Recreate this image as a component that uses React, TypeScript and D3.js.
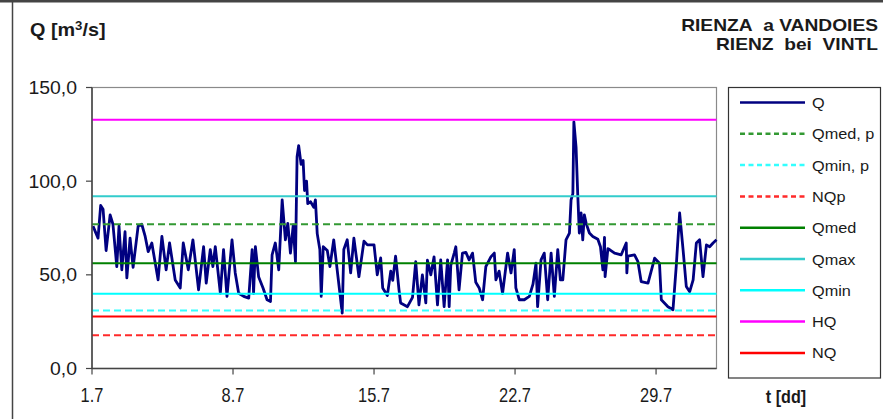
import React from "react";
import * as d3 from "d3";

// x axis: days since 1 July
const tickDays = [0, 7, 14, 21, 28];
const tickLabels = ["1.7", "8.7", "15.7", "22.7", "29.7"];
const yTicks = [0, 50, 100, 150];
const yTickLabels = ["0,0", "50,0", "100,0", "150,0"];

// Q series (time in days since 1.7 00:00, discharge m3/s)
const qTimes = [
  0.05, 0.3, 0.43, 0.55, 0.7, 0.9, 1.04, 1.23, 1.34, 1.48, 1.64, 1.73, 1.89, 2.04, 2.29, 2.47, 2.64, 2.79, 2.97,
  3.28, 3.47, 3.68, 3.85, 4.13, 4.38, 4.53, 4.78, 5.01, 5.29, 5.54, 5.67, 5.87, 6.0, 6.12, 6.37, 6.53, 6.7, 6.95,
  7.11, 7.28, 7.53, 7.78, 7.95, 8.02, 8.11, 8.27, 8.49, 8.69, 8.86, 8.94, 9.1, 9.27, 9.44, 9.6, 9.72, 9.85, 9.99,
  10.1, 10.18, 10.26, 10.38, 10.48, 10.55, 10.65, 10.71, 10.85, 11.01, 11.09, 11.18, 11.31, 11.38, 11.48, 11.68,
  11.81, 12.0, 12.17, 12.42, 12.5, 12.67, 12.84, 13.0, 13.25, 13.5, 13.67, 14.0, 14.16, 14.33, 14.43, 14.66, 14.83,
  14.93, 15.07, 15.24, 15.32, 15.66, 15.91, 16.07, 16.23, 16.4, 16.57, 16.65, 16.82, 16.98, 17.15, 17.31, 17.48,
  17.65, 17.73, 17.81, 17.98, 18.06, 18.22, 18.39, 18.56, 18.72, 18.89, 19.05, 19.22, 19.39, 19.55, 19.8, 19.97,
  20.05, 20.21, 20.38, 20.63, 20.8, 20.96, 21.04, 21.21, 21.46, 21.71, 21.89, 22.04, 22.12, 22.29, 22.45, 22.62,
  22.79, 22.95, 23.12, 23.25, 23.37, 23.53, 23.7, 23.78, 23.87, 23.92, 24.03, 24.11, 24.19, 24.28, 24.36, 24.44,
  24.53, 24.69, 24.86, 25.11, 25.24, 25.36, 25.44, 25.47, 25.61, 25.69, 25.94, 26.27, 26.52, 26.55, 26.6, 26.93,
  27.1, 27.26, 27.6, 27.93, 28.17, 28.26, 28.59, 28.84, 29.0, 29.17, 29.34, 29.5, 29.67, 29.84, 30.0, 30.16, 30.33,
  30.5, 30.66, 30.83, 31.0,
];
const qValues = [
  76, 69.6, 87, 85, 63, 82, 77, 54.4, 76, 52.7, 73, 48.4, 69.6, 54, 76, 77, 70.5, 62.4, 67,
  47.3, 70.5, 52.7, 67, 47.3, 43, 67, 52.7, 68.7, 42, 65, 45.6, 63.5, 54.4, 65, 40.2, 63.5, 38.5, 68.7,
  51, 40.2, 38.5, 37.6, 63.5, 40, 65, 49, 43, 36.7, 35.8, 60.7, 67, 52.7, 90, 68.7, 77.5, 61.6, 76.6,
  57, 113, 119, 109, 111, 95, 100, 88, 89, 86, 90, 72, 63.5, 38.5, 65, 63,
  54.4, 68.7, 52.7, 29.6, 63.5, 68.7, 51, 69.6, 49, 68, 66, 66, 50, 59, 43, 39, 52,
  47, 60, 42, 35, 33, 38, 57, 34, 50, 35, 57.8, 50, 59.6, 34, 58, 33,
  58, 33, 55, 61.6, 65, 42, 61.6, 62, 58, 61.6, 46, 43, 36.7, 54.4, 59.6, 61.6,
  47.3, 52, 40, 61.6, 51, 63.5, 43, 36.7, 36.7, 38.5, 45, 56.2, 33, 58, 61.6, 36.7,
  61.6, 38.5, 63.5, 47.3, 47.3, 68.7, 72.3, 90, 93.4, 131.6, 118, 93.4, 72.3, 83, 68.7, 82,
  77.5, 72.3, 70.5, 69, 65, 52.7, 70, 49, 64, 63.5, 61.6, 60.7, 67, 51, 60, 60.7,
  57, 46.4, 45.6, 58.9, 56.2, 36.7, 33, 31.4, 54.4, 83, 63.5, 43.8, 41, 47.3, 67, 68.7, 49,
  66, 65, 67, 68.7,
];

// reference levels
const refNames = ["Qmed, p", "Qmin, p", "NQp", "Qmed", "Qmax", "Qmin", "HQ", "NQ"];
const refValues = [77.0, 30.9, 17.7, 56.2, 91.9, 39.9, 132.8, 27.7];
const refColors = ["#339933", "#33ffff", "#ff2a2a", "#008000", "#33cccc", "#00ffff", "#ff00ff", "#ff0000"];
const refDashed = [true, true, true, false, false, false, false, false];

const Q_COLOR = "#000080";
const FONT = "'Liberation Sans', Arial, sans-serif";

function SText(props: {
  x: number;
  y: number;
  sx?: number;
  size: number;
  bold?: boolean;
  anchor?: "start" | "middle" | "end";
  children: React.ReactNode;
}) {
  const { x, y, sx = 1, size, bold, anchor = "start", children } = props;
  return (
    <text
      transform={`translate(${x},${y}) scale(${sx},1)`}
      fontSize={size}
      fontWeight={bold ? "bold" : "normal"}
      textAnchor={anchor}
      fill="#1a1a1a"
    >
      {children}
    </text>
  );
}

export default function App() {
  const W = 883;
  const H = 419;
  const left = 92;
  const right = 716.5;
  const top = 87.5;
  const bottom = 368.5;

  const x = d3.scaleLinear().domain([0, 31]).range([left, right]);
  const y = d3.scaleLinear().domain([0, 150]).range([bottom, top]);

  const pts: [number, number][] = qTimes.map((t, i) => [t, qValues[i]]);
  const line = d3
    .line<[number, number]>()
    .x((d) => x(d[0]))
    .y((d) => y(d[1]));

  const legendItems = [
    { name: "Q", color: Q_COLOR, dashed: false },
    ...refNames.map((n, i) => ({ name: n, color: refColors[i], dashed: refDashed[i] })),
  ];
  const legX = 728.5;
  const legY = 87.5;
  const legW = 152;
  const legH = 290.5;
  const rowY = (i: number) => 102.5 + i * 31.3;

  return (
    <svg
      width={W}
      height={H}
      style={{ position: "absolute", left: 0, top: 0, background: "#fff" }}
      fontFamily={FONT}
    >
      <rect x={0} y={0} width={W} height={H} fill="#fff" />
      {/* outer frame */}
      <line x1={0} x2={W} y1={1.2} y2={1.2} stroke="#444" strokeWidth={2.5} />
      <line x1={12.5} x2={12.5} y1={0} y2={H} stroke="#444" strokeWidth={1.5} />

      {/* titles */}
      <SText x={30} y={36} size={18} sx={1.1} bold>
        Q [m<tspan dy={-6.5} fontSize={12}>3</tspan>
        <tspan dy={6.5}>/s]</tspan>
      </SText>
      <SText x={878} y={31} size={16} sx={1.2} bold anchor="end">
        RIENZA{"\u00a0\u00a0"}a VANDOIES
      </SText>
      <SText x={878} y={50} size={16} sx={1.2} bold anchor="end">
        RIENZ{"\u00a0\u00a0"}bei{"\u00a0\u00a0"}VINTL
      </SText>

      {/* plot frame */}
      <rect x={left} y={top} width={right - left} height={bottom - top} fill="none" stroke="#8a8a8a" strokeWidth={1.2} />

      {/* Q series */}
      <path d={line(pts) || ""} fill="none" stroke={Q_COLOR} strokeWidth={2.8} strokeLinejoin="round" />

      {/* reference lines */}
      {refValues.map((v, i) => (
        <line
          key={refNames[i]}
          x1={left}
          x2={right}
          y1={y(v)}
          y2={y(v)}
          stroke={refColors[i]}
          strokeWidth={2}
          strokeDasharray={refDashed[i] ? "7,4" : undefined}
        />
      ))}

      {/* axes */}
      <line x1={left} x2={left} y1={top} y2={bottom} stroke="#444" strokeWidth={1.5} />
      <line x1={left} x2={right} y1={bottom} y2={bottom} stroke="#444" strokeWidth={1.5} />
      {yTicks.map((t, i) => (
        <g key={"y" + t}>
          <line x1={left - 6} x2={left} y1={y(t)} y2={y(t)} stroke="#444" strokeWidth={1.2} />
          <SText x={77} y={y(t) + 6.5} size={18.5} sx={1.05} anchor="end">
            {yTickLabels[i]}
          </SText>
        </g>
      ))}
      {tickDays.map((t, i) => (
        <g key={"x" + t}>
          <line x1={x(t)} x2={x(t)} y1={bottom} y2={bottom + 6} stroke="#444" strokeWidth={1.2} />
          <SText x={x(t)} y={402} size={20} sx={0.82} anchor="middle">
            {tickLabels[i]}
          </SText>
        </g>
      ))}
      <SText x={786} y={403} size={19} sx={0.85} bold anchor="middle">
        t [dd]
      </SText>

      {/* legend */}
      <rect x={legX} y={legY} width={legW} height={legH} fill="#fff" stroke="#333" strokeWidth={1.2} />
      {legendItems.map((it, i) => (
        <g key={it.name}>
          <line
            x1={740}
            x2={805}
            y1={rowY(i)}
            y2={rowY(i)}
            stroke={it.color}
            strokeWidth={2.5}
            strokeDasharray={it.dashed ? "5,3.5" : undefined}
          />
          <SText x={812} y={rowY(i) + 5.5} size={15.5} sx={1.05}>
            {it.name}
          </SText>
        </g>
      ))}
    </svg>
  );
}
